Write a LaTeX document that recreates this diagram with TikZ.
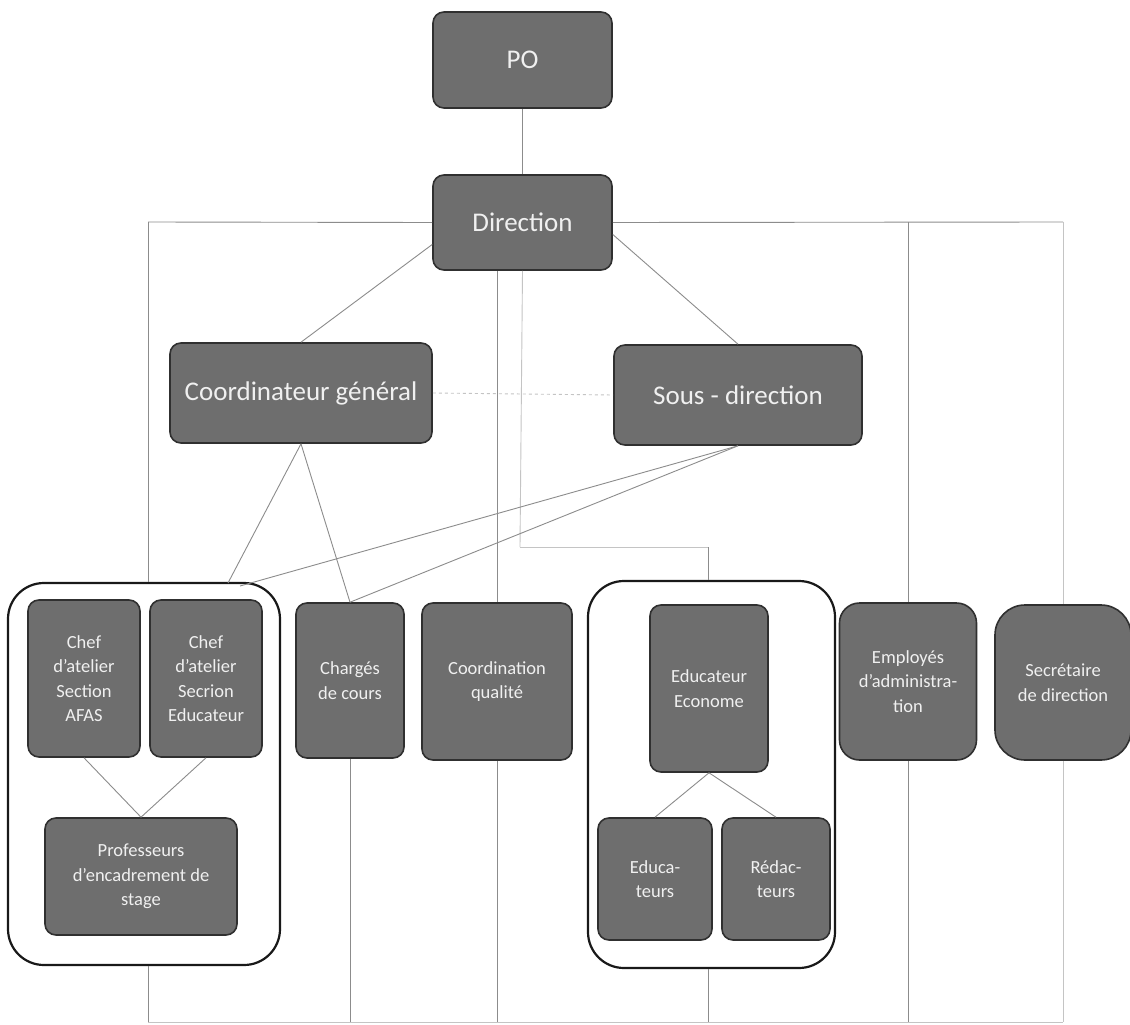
\documentclass[tikz,border=0pt]{standalone}
\usepackage{fontspec}
\setmainfont{Carlito}
\usetikzlibrary{calc}
\definecolor{boxfill}{HTML}{6E6E6E}
\definecolor{boxdraw}{HTML}{303030}
\definecolor{boxtext}{HTML}{F0F0F0}
\definecolor{linegray}{HTML}{8C8C8C}
\definecolor{lightline}{HTML}{C4C4C4}
\tikzset{
  box/.style={draw=boxdraw, line width=1.6pt, fill=boxfill, rounded corners=11pt,
    text=boxtext, align=center, inner sep=2pt},
  bigbox/.style={box, font=\fontsize{27}{31}\selectfont},
  smallbox/.style={box, font=\fontsize{18.5}{24.5}\selectfont},
  groupbox/.style={draw=black!90, line width=2.2pt, fill=white, rounded corners=36pt},
  conn/.style={draw=linegray, line width=0.9pt},
  faint/.style={draw=lightline, line width=0.9pt},
}
\begin{document}
\begin{tikzpicture}[x=1pt,y=-1pt]
\useasboundingbox (0,0) rectangle (1130,1025);
\fill[white] (0,0) rectangle (1130,1025);

% ---- coordinates of the frame lines
\coordinate (hl) at (148,222);
\coordinate (hr) at (1063,222);
\coordinate (bl) at (148,1022);
\coordinate (br) at (1063,1022);
\coordinate (mid1) at (520,547);
\coordinate (mid2) at (708,547);

% ---- group frames
\node[groupbox, minimum width=272pt, minimum height=382pt] (lgroup) at (144,774) {};
\node[groupbox, minimum width=247pt, minimum height=387pt] (rgroup) at (711.5,774.5) {};

% ---- boxes
\node[bigbox, minimum width=179pt, minimum height=96pt] (po) at (522.5,60) {PO};
\node[bigbox, minimum width=179pt, minimum height=95pt] (dir) at (522.5,222.5) {Direction};
\node[bigbox, minimum width=262pt, minimum height=100pt] (coord) at (301,393) {Coordinateur général};
\node[bigbox, minimum width=248pt, minimum height=100pt] (sous) at (738,395) {Sous - direction};

\node[smallbox, minimum width=112pt, minimum height=157pt] (chefA) at (84,678.5) {Chef\\d'atelier\\Section\\AFAS};
\node[smallbox, minimum width=112pt, minimum height=157pt] (chefE) at (206,678.5) {Chef\\d'atelier\\Secrion\\Educateur};
\node[smallbox, minimum width=192pt, minimum height=117pt] (prof) at (141,876.5) {Professeurs\\d'encadrement de\\stage};
\node[smallbox, minimum width=108pt, minimum height=155pt] (charges) at (350,680.5) {Chargés\\de cours};
\node[smallbox, minimum width=150pt, minimum height=157pt] (cq) at (497,681.5) {Coordination\\qualité};
\node[smallbox, minimum width=118pt, minimum height=167pt] (edeco) at (709,688.5) {Educateur\\Econome};
\node[smallbox, minimum width=114pt, minimum height=122pt] (educ) at (655,879) {Educa-\\teurs};
\node[smallbox, minimum width=108pt, minimum height=122pt] (redac) at (776,879) {Rédac-\\teurs};
\node[smallbox, rounded corners=20pt, minimum width=137pt, minimum height=157pt] (emp) at (908,681.5) {Employés\\d'administra-\\tion};
\node[smallbox, rounded corners=30pt, minimum width=136pt, minimum height=155pt] (sec) at (1063,682.5) {Secrétaire\\de direction};

% ---- connectors
\draw[conn] (po) -- (dir);
\draw[conn] (hl) -- (dir.west);
\draw[conn] (dir.east) -- (hr);
\draw[conn] (hl) -- (hl |- lgroup.north);
\draw[conn] (cq.north |- dir.south) -- (cq.north);
\draw[conn] (emp.north |- hr) -- (emp.north);
\draw[faint] (hr) -- (sec.north);
\draw[faint] (dir.south) -- (mid1);
\draw[faint] (mid1) -- (mid2);
\draw[conn] (mid2) -- (rgroup.north -| mid2);

\draw[conn] ([yshift=-22pt]dir.west) -- (coord.north);
\draw[conn] ([yshift=-12pt]dir.east) -- (sous.north);
\draw[faint, dashed] (coord.east) -- (sous.west);

\draw[conn] (coord.south) -- (228,583);
\draw[conn] (coord.south) -- (charges.north);
\draw[conn] (sous.south) -- (240,586);
\draw[conn] (sous.south) -- (charges.north);

\draw[conn] (chefA.south) -- (prof.north);
\draw[conn] (chefE.south) -- (prof.north);
\draw[conn] (edeco.south) -- (educ.north);
\draw[conn] (edeco.south) -- (redac.north);

% ---- bottom lines
\draw[conn] (lgroup.south -| bl) -- (bl);
\draw[conn] (charges.south) -- (charges.south |- bl);
\draw[conn] (cq.south) -- (cq.south |- bl);
\draw[conn] (rgroup.south -| mid2) -- (mid2 |- bl);
\draw[conn] (emp.south) -- (emp.south |- bl);
\draw[faint] (sec.south) -- (br);
\draw[faint] (bl) -- (br);
\end{tikzpicture}
\end{document}
